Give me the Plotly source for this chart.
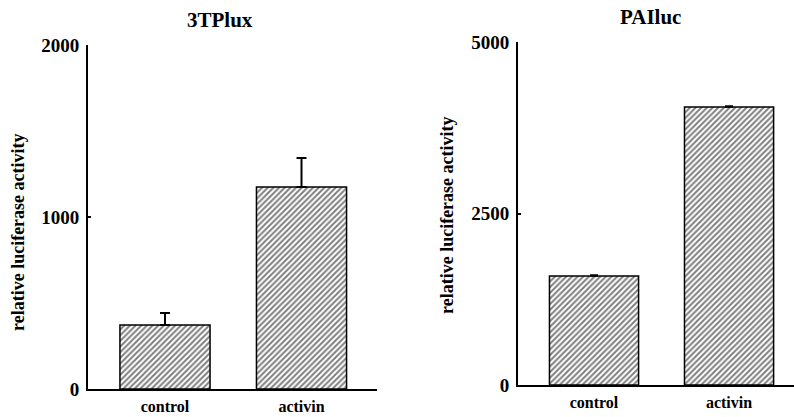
import plotly.graph_objects as go

categories = ["control", "activin"]
tp_values = [372, 1174]
tp_errors = [70, 169]
pai_values = [1589, 4052]
pai_errors = [15, 15]
tp_ticks = [0, 1000, 2000]
pai_ticks = [0, 2500, 5000]

W, H = 794, 417
FONT = "Liberation Serif"

def fx(px):
    return px / W

def fy(py):
    return 1 - py / H

fig = go.Figure()

bar_style = dict(
    marker=dict(color="white", line=dict(color="black", width=1.5),
                pattern=dict(shape="/", fgcolor="black", bgcolor="white", size=4, solidity=0.5)),
    width=0.66, showlegend=False,
)

fig.add_trace(go.Bar(x=[0, 1], y=tp_values, xaxis="x", yaxis="y",
                     error_y=dict(type="data", array=tp_errors, arrayminus=[0, 0], symmetric=False,
                                  color="black", thickness=2, width=5),
                     **bar_style))
fig.add_trace(go.Bar(x=[0, 1], y=pai_values, xaxis="x2", yaxis="y2",
                     error_y=dict(type="data", array=pai_errors, arrayminus=[0, 0], symmetric=False,
                                  color="black", thickness=1.5, width=4),
                     **bar_style))

axis_common = dict(showline=True, linecolor="black", linewidth=2, showgrid=False, zeroline=False,
                   automargin=False)
ytick_font = dict(family=FONT, size=19, color="black", weight="bold")
xtick_font = dict(family=FONT, size=16, color="black", weight="bold")

fig.update_layout(
    width=W, height=H, margin=dict(l=0, r=0, t=0, b=0, autoexpand=False),
    paper_bgcolor="white", plot_bgcolor="white",
    xaxis=dict(domain=[fx(88), fx(377)], range=[-0.564, 1.553], anchor="y",
               tickvals=[0, 1], ticktext=categories, ticks="", ticklabelstandoff=2,
               tickfont=xtick_font, **axis_common),
    yaxis=dict(domain=[fy(389), fy(45)], range=[0, 2000], anchor="x",
               tickvals=tp_ticks, ticks="inside", ticklen=3, tickwidth=2, tickcolor="black",
               ticklabelstandoff=3, tickfont=ytick_font, **axis_common),
    xaxis2=dict(domain=[fx(518), 1.0], range=[-0.563, 1.481], anchor="y2",
                tickvals=[0, 1], ticktext=categories, ticks="", ticklabelstandoff=2,
                tickfont=xtick_font, **axis_common),
    yaxis2=dict(domain=[fy(385), fy(42)], range=[0, 5000], anchor="x2",
                tickvals=pai_ticks, ticks="inside", ticklen=3, tickwidth=2, tickcolor="black",
                ticklabelstandoff=3, tickfont=ytick_font, **axis_common),
)

titles = [("3TPlux", 220, 20), ("PAIluc", 650, 17)]
for text, x, y in titles:
    fig.add_annotation(text="<b>" + text + "</b>", x=fx(x), y=fy(y), xref="paper", yref="paper",
                       xanchor="center", yanchor="middle",
                       showarrow=False, font=dict(family=FONT, size=21, color="black"))

ytitles = [(18, 232), (447, 215)]
for x, y in ytitles:
    fig.add_annotation(text="<b>relative luciferase activity</b>", x=fx(x), y=fy(y),
                       xref="paper", yref="paper", xanchor="center", yanchor="middle",
                       showarrow=False, textangle=-90,
                       font=dict(family=FONT, size=18, color="black"))

fig.write_html("out.html", config={"displayModeBar": False},
               post_script="document.body.style.margin='0px';document.body.style.overflow='hidden';")
